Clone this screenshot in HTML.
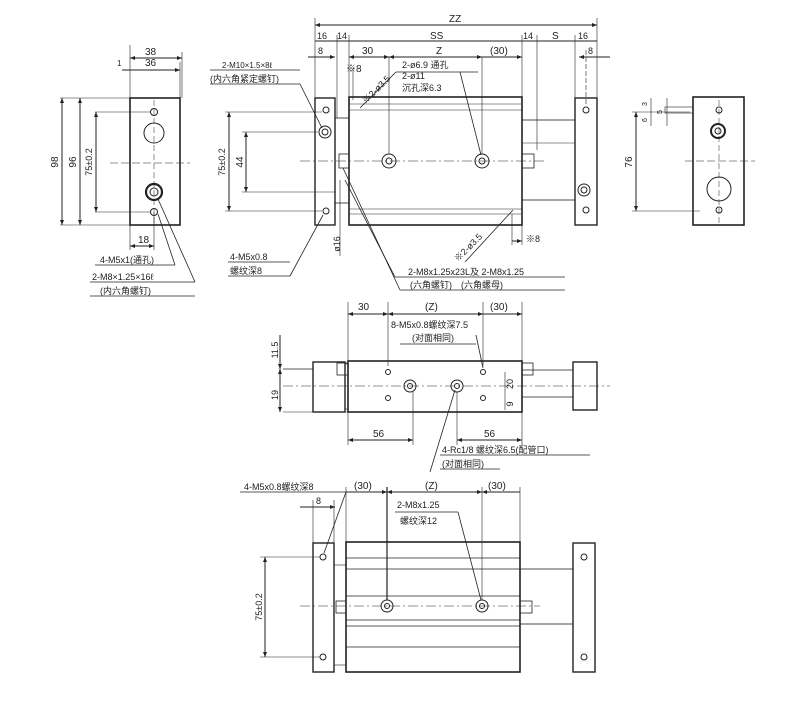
<!DOCTYPE html>
<html><head><meta charset="utf-8"><style>
html,body{margin:0;padding:0;background:#fff;}
svg{display:block;}
text{font-family:"Liberation Sans","Noto Sans CJK SC",sans-serif;fill:#222;}
</style></head><body>
<svg width="800" height="727" viewBox="0 0 800 727" xmlns="http://www.w3.org/2000/svg">
<defs>
<marker id="a" viewBox="0 0 10 10" refX="10" refY="5" markerWidth="6" markerHeight="5" orient="auto-start-reverse"><path d="M0,1 L10,5 L0,9z" fill="#222"/></marker>
</defs>
<g stroke="#222" fill="none" stroke-width="1">

<!-- ===== LEFT END VIEW ===== -->
<rect x="130" y="98" width="50" height="127" stroke-width="1.6"/>
<line x1="130" y1="45" x2="130" y2="98" stroke-width="0.6"/>
<line x1="182" y1="52" x2="182" y2="98" stroke-width="0.6"/>
<line x1="180" y1="62" x2="180" y2="98" stroke-width="0.6"/>
<line x1="130" y1="58" x2="182" y2="58" marker-start="url(#a)" marker-end="url(#a)"/>
<line x1="122" y1="70" x2="180" y2="70" marker-end="url(#a)"/>
<line x1="60" y1="98" x2="130" y2="98" stroke-width="0.6"/>
<line x1="60" y1="225" x2="130" y2="225" stroke-width="0.6"/>
<line x1="62" y1="98" x2="62" y2="225" marker-start="url(#a)" marker-end="url(#a)"/>
<line x1="80" y1="98" x2="80" y2="225" marker-start="url(#a)" marker-end="url(#a)"/>
<line x1="95" y1="112" x2="150" y2="112" stroke-width="0.6"/>
<line x1="95" y1="212" x2="150" y2="212" stroke-width="0.6"/>
<line x1="96" y1="112" x2="96" y2="212" marker-start="url(#a)" marker-end="url(#a)"/>
<circle cx="154" cy="112" r="3.5"/>
<circle cx="154" cy="133" r="10"/>
<circle cx="154" cy="192" r="8" stroke-width="2.2"/>
<circle cx="154" cy="192" r="4"/>
<circle cx="154" cy="212" r="3.5"/>
<line x1="154" y1="100" x2="154" y2="224" stroke-dasharray="6,3" stroke-width="0.5"/>
<line x1="110" y1="163" x2="190" y2="163" stroke-dasharray="8,3" stroke-width="0.5"/>
<line x1="130" y1="225" x2="130" y2="250" stroke-width="0.6"/>
<line x1="154" y1="212" x2="154" y2="250" stroke-width="0.6"/>
<line x1="130" y1="246" x2="154" y2="246" marker-start="url(#a)" marker-end="url(#a)"/>
<line x1="95" y1="265" x2="175" y2="265" stroke-width="0.8"/>
<line x1="175" y1="265" x2="158" y2="214" stroke-width="0.8"/>
<line x1="90" y1="282" x2="195" y2="282" stroke-width="0.8"/>
<line x1="195" y1="282" x2="158" y2="199" stroke-width="0.8"/>
<line x1="90" y1="296" x2="195" y2="296" stroke-width="0.8"/>

<!-- ===== TOP MAIN VIEW ===== -->
<rect x="315" y="98" width="20" height="127" stroke-width="1.4"/>
<rect x="335" y="118" width="14" height="85" stroke-width="0.8"/>
<rect x="349" y="97" width="173" height="128" stroke-width="1.6"/>
<line x1="349" y1="104" x2="522" y2="104" stroke-width="0.6"/>
<line x1="349" y1="110" x2="522" y2="110" stroke-width="0.6"/>
<line x1="349" y1="209" x2="522" y2="209" stroke-width="0.6"/>
<line x1="349" y1="214" x2="522" y2="214" stroke-width="0.6"/>
<rect x="522" y="120" width="53" height="80" stroke-width="0.8"/>
<line x1="522" y1="143" x2="575" y2="143" stroke-width="0.6"/>
<rect x="575" y="98" width="22" height="127" stroke-width="1.4"/>
<rect x="339" y="154" width="10" height="14" stroke-width="0.8"/>
<rect x="522" y="154" width="12" height="14" stroke-width="0.8"/>
<line x1="300" y1="161" x2="545" y2="161" stroke-dasharray="10,3,2,3" stroke-width="0.5"/>
<circle cx="389" cy="161" r="7"/><circle cx="389" cy="161" r="3"/>
<circle cx="482" cy="161" r="7"/><circle cx="482" cy="161" r="3"/>
<circle cx="326" cy="110" r="3"/>
<circle cx="325" cy="132" r="6"/><circle cx="325" cy="132" r="3"/>
<circle cx="326" cy="211" r="3"/>
<circle cx="586" cy="110" r="3"/>
<circle cx="584" cy="190" r="6"/><circle cx="584" cy="190" r="3"/>
<circle cx="586" cy="210" r="3"/>
<!-- 75 / 44 dims -->
<line x1="225" y1="112" x2="322" y2="112" stroke-width="0.6"/>
<line x1="225" y1="211" x2="322" y2="211" stroke-width="0.6"/>
<line x1="229" y1="112" x2="229" y2="211" marker-start="url(#a)" marker-end="url(#a)"/>
<line x1="242" y1="132" x2="318" y2="132" stroke-width="0.6"/>
<line x1="242" y1="192" x2="335" y2="192" stroke-width="0.6"/>
<line x1="246" y1="132" x2="246" y2="192" marker-start="url(#a)" marker-end="url(#a)"/>
<!-- dims top -->
<line x1="315" y1="18" x2="315" y2="98" stroke-width="0.6"/>
<line x1="597" y1="18" x2="597" y2="98" stroke-width="0.6"/>
<line x1="315" y1="25" x2="597" y2="25" marker-start="url(#a)" marker-end="url(#a)"/>
<line x1="315" y1="41" x2="597" y2="41"/>
<line x1="349" y1="35" x2="349" y2="97" stroke-width="0.6"/>
<line x1="522" y1="35" x2="522" y2="97" stroke-width="0.6"/>
<line x1="337" y1="35" x2="337" y2="118" stroke-width="0.6"/>
<line x1="537" y1="35" x2="537" y2="150" stroke-width="0.6"/>
<line x1="575" y1="35" x2="575" y2="98" stroke-width="0.6"/>
<line x1="308" y1="57" x2="335" y2="57" marker-end="url(#a)"/>
<line x1="349" y1="57" x2="389" y2="57" marker-start="url(#a)" marker-end="url(#a)"/>
<line x1="389" y1="57" x2="482" y2="57" marker-start="url(#a)" marker-end="url(#a)"/>
<line x1="482" y1="57" x2="522" y2="57" marker-end="url(#a)"/>
<line x1="579" y1="57" x2="610" y2="57" marker-start="url(#a)"/>
<line x1="389" y1="57" x2="389" y2="154" stroke-width="0.6"/>
<line x1="482" y1="57" x2="482" y2="154" stroke-width="0.6"/>
<line x1="586" y1="50" x2="586" y2="105" stroke-width="0.6" stroke-dasharray="5,2"/>
<line x1="353" y1="68" x2="353" y2="100" stroke-width="0.6"/>
<line x1="360" y1="108" x2="396" y2="72" stroke-width="0.8"/>
<line x1="396" y1="72" x2="478" y2="72" stroke-width="0.8"/>
<line x1="460" y1="72" x2="481" y2="155" stroke-width="0.8"/>
<line x1="210" y1="70" x2="300" y2="70" stroke-width="0.8"/>
<line x1="300" y1="84" x2="322" y2="128" stroke-width="0.8"/>
<line x1="210" y1="84" x2="300" y2="84" stroke-width="0.8"/>
<line x1="228" y1="262" x2="290" y2="262" stroke-width="0.8"/>
<line x1="228" y1="276" x2="290" y2="276" stroke-width="0.8"/>
<line x1="290" y1="276" x2="323" y2="215" stroke-width="0.8"/>
<line x1="340" y1="180" x2="340" y2="256" stroke-width="0.6"/>
<line x1="343" y1="168" x2="400" y2="290" stroke-width="0.8"/>
<line x1="345" y1="180" x2="395" y2="277" stroke-width="0.8"/>
<line x1="395" y1="277" x2="565" y2="277" stroke-width="0.8"/>
<line x1="400" y1="290" x2="565" y2="290" stroke-width="0.8"/>
<line x1="465" y1="262" x2="513" y2="210" stroke-width="0.8"/>
<line x1="512" y1="214" x2="512" y2="245" stroke-width="0.6"/>
<line x1="522" y1="225" x2="522" y2="245" stroke-width="0.6"/>
<line x1="512" y1="241" x2="522" y2="241" marker-end="url(#a)"/>

<!-- ===== RIGHT END VIEW ===== -->
<rect x="693" y="97" width="51" height="128" stroke-width="1.6"/>
<rect x="665" y="107" width="28" height="6" stroke-width="0.6"/>
<circle cx="719" cy="110" r="3"/>
<circle cx="718" cy="131" r="7" stroke-width="2"/><circle cx="718" cy="131" r="3"/>
<circle cx="719" cy="189" r="12"/>
<circle cx="719" cy="210" r="3"/>
<line x1="719" y1="100" x2="719" y2="224" stroke-dasharray="6,3" stroke-width="0.5"/>
<line x1="685" y1="161" x2="755" y2="161" stroke-dasharray="8,3" stroke-width="0.5"/>
<line x1="632" y1="112" x2="690" y2="112" stroke-width="0.6"/>
<line x1="632" y1="211" x2="700" y2="211" stroke-width="0.6"/>
<line x1="636" y1="112" x2="636" y2="211" marker-start="url(#a)" marker-end="url(#a)"/>
<line x1="651" y1="98" x2="651" y2="126" stroke-width="0.6"/>
<line x1="667" y1="98" x2="667" y2="126" stroke-width="0.6"/>

<!-- ===== MIDDLE SIDE VIEW ===== -->
<rect x="348" y="361" width="174" height="51" stroke-width="1.6"/>
<rect x="313" y="362" width="32" height="50" stroke-width="1.4"/>
<rect x="345" y="364" width="3" height="45" stroke-width="0.6"/>
<rect x="337" y="363" width="11" height="12" stroke-width="0.8"/>
<rect x="522" y="363" width="11" height="12" stroke-width="0.8"/>
<rect x="573" y="362" width="24" height="48" stroke-width="1.4"/>
<line x1="522" y1="370" x2="573" y2="370" stroke-width="0.8"/>
<line x1="522" y1="397" x2="573" y2="397" stroke-width="0.8"/>
<line x1="283" y1="369" x2="313" y2="369" stroke-width="0.8"/>
<line x1="283" y1="386" x2="610" y2="386" stroke-dasharray="10,3,2,3" stroke-width="0.5"/>
<line x1="283" y1="412" x2="348" y2="412" stroke-width="0.6"/>
<line x1="280" y1="335" x2="280" y2="369" marker-end="url(#a)"/>
<line x1="280" y1="369" x2="280" y2="412" marker-start="url(#a)" marker-end="url(#a)"/>
<circle cx="388" cy="372" r="2.5"/><circle cx="388" cy="398" r="2.5"/>
<circle cx="483" cy="372" r="2.5"/><circle cx="483" cy="398" r="2.5"/>
<circle cx="410" cy="386" r="6"/><circle cx="410" cy="386" r="2.5"/>
<circle cx="457" cy="386" r="6"/><circle cx="457" cy="386" r="2.5"/>
<line x1="348" y1="302" x2="348" y2="361" stroke-width="0.6"/>
<line x1="522" y1="302" x2="522" y2="361" stroke-width="0.6"/>
<line x1="388" y1="302" x2="388" y2="366" stroke-width="0.6"/>
<line x1="483" y1="302" x2="483" y2="366" stroke-width="0.6"/>
<line x1="348" y1="314" x2="388" y2="314" marker-start="url(#a)" marker-end="url(#a)"/>
<line x1="388" y1="314" x2="483" y2="314" marker-start="url(#a)" marker-end="url(#a)"/>
<line x1="483" y1="314" x2="522" y2="314" marker-end="url(#a)"/>
<line x1="348" y1="412" x2="348" y2="445" stroke-width="0.6"/>
<line x1="413" y1="392" x2="413" y2="445" stroke-width="0.6"/>
<line x1="457" y1="392" x2="457" y2="445" stroke-width="0.6"/>
<line x1="522" y1="412" x2="522" y2="445" stroke-width="0.6"/>
<line x1="348" y1="440" x2="413" y2="440" marker-start="url(#a)" marker-end="url(#a)"/>
<line x1="457" y1="440" x2="522" y2="440" marker-start="url(#a)" marker-end="url(#a)"/>
<line x1="505" y1="372" x2="505" y2="410" stroke-width="0.6"/>
<line x1="400" y1="344" x2="476" y2="344" stroke-width="0.8"/>
<line x1="476" y1="335" x2="483" y2="368" stroke-width="0.8"/>
<line x1="440" y1="455" x2="590" y2="455" stroke-width="0.8"/>
<line x1="440" y1="469" x2="500" y2="469" stroke-width="0.8"/>
<line x1="430" y1="472" x2="455" y2="390" stroke-width="0.8"/>

<!-- ===== BOTTOM VIEW ===== -->
<rect x="313" y="543" width="21" height="129" stroke-width="1.4"/>
<rect x="334" y="565" width="12" height="100" stroke-width="0.6"/>
<rect x="346" y="542" width="174" height="130" stroke-width="1.6"/>
<line x1="346" y1="558" x2="520" y2="558" stroke-width="0.7"/>
<line x1="346" y1="569" x2="520" y2="569" stroke-width="0.7"/>
<line x1="346" y1="596" x2="520" y2="596" stroke-width="0.7"/>
<line x1="346" y1="620" x2="520" y2="620" stroke-width="0.7"/>
<line x1="346" y1="626" x2="520" y2="626" stroke-width="0.7"/>
<line x1="346" y1="647" x2="520" y2="647" stroke-width="0.7"/>
<rect x="520" y="569" width="53" height="55" stroke-width="0.8"/>
<rect x="573" y="543" width="22" height="129" stroke-width="1.4"/>
<rect x="336" y="601" width="10" height="12" stroke-width="0.8"/>
<rect x="520" y="601" width="12" height="12" stroke-width="0.8"/>
<line x1="300" y1="606" x2="540" y2="606" stroke-dasharray="10,3,2,3" stroke-width="0.5"/>
<circle cx="323" cy="557" r="3"/><circle cx="323" cy="657" r="3"/>
<circle cx="584" cy="557" r="3"/><circle cx="584" cy="657" r="3"/>
<circle cx="387" cy="606" r="6"/><circle cx="387" cy="606" r="2.5"/>
<circle cx="482" cy="606" r="6"/><circle cx="482" cy="606" r="2.5"/>
<line x1="387" y1="487" x2="387" y2="600" stroke-width="1.2"/>
<line x1="482" y1="487" x2="482" y2="600" stroke-width="0.6"/>
<line x1="346" y1="487" x2="346" y2="542" stroke-width="0.6"/>
<line x1="520" y1="487" x2="520" y2="542" stroke-width="0.6"/>
<line x1="346" y1="492" x2="387" y2="492" marker-end="url(#a)"/>
<line x1="387" y1="492" x2="482" y2="492" marker-start="url(#a)" marker-end="url(#a)"/>
<line x1="482" y1="492" x2="520" y2="492" marker-start="url(#a)"/>
<line x1="300" y1="507" x2="335" y2="507" marker-end="url(#a)"/>
<line x1="313" y1="500" x2="313" y2="543" stroke-width="0.6"/>
<line x1="334" y1="500" x2="334" y2="543" stroke-width="0.6"/>
<line x1="240" y1="492" x2="346" y2="492" stroke-width="0.8"/>
<line x1="346" y1="492" x2="324" y2="553" stroke-width="0.8"/>
<line x1="395" y1="512" x2="458" y2="512" stroke-width="0.8"/>
<line x1="458" y1="512" x2="481" y2="600" stroke-width="0.8"/>
<line x1="260" y1="557" x2="320" y2="557" stroke-width="0.6"/>
<line x1="260" y1="657" x2="320" y2="657" stroke-width="0.6"/>
<line x1="265" y1="557" x2="265" y2="657" marker-start="url(#a)" marker-end="url(#a)"/>
</g>

<g font-size="10">
<!-- left view -->
<text x="145" y="55">38</text>
<text x="145" y="66">36</text>
<text x="117" y="66" font-size="8">1</text>
<text x="138" y="243">18</text>
<text transform="translate(58,162) rotate(-90)" text-anchor="middle">98</text>
<text transform="translate(76,162) rotate(-90)" text-anchor="middle">96</text>
<text transform="translate(92,162) rotate(-90)" text-anchor="middle" font-size="9">75±0.2</text>
<text x="100" y="263" font-size="9">4-M5x1(通孔)</text>
<text x="92" y="280" font-size="9">2-M8×1.25×16ℓ</text>
<text x="100" y="294" font-size="9">(内六角螺钉)</text>
<!-- top main -->
<text x="449" y="22">ZZ</text>
<text x="317" y="39" font-size="9">16</text>
<text x="337" y="39" font-size="9">14</text>
<text x="430" y="39">SS</text>
<text x="523" y="39" font-size="9">14</text>
<text x="552" y="39">S</text>
<text x="578" y="39" font-size="9">16</text>
<text x="318" y="54" font-size="9">8</text>
<text x="362" y="54">30</text>
<text x="436" y="54">Z</text>
<text x="490" y="54">(30)</text>
<text x="588" y="54" font-size="9">8</text>
<text x="346" y="72" font-size="10">※8</text>
<text x="402" y="68" font-size="9">2-ø6.9 通孔</text>
<text x="402" y="79" font-size="9">2-ø11</text>
<text x="402" y="91" font-size="9">沉孔深6.3</text>
<text transform="translate(366,104) rotate(-45)" font-size="9">※2-ø3.5</text>
<text x="222" y="68" font-size="8">2-M10×1.5×8ℓ</text>
<text x="210" y="82" font-size="9">(内六角紧定螺钉)</text>
<text transform="translate(225,162) rotate(-90)" text-anchor="middle" font-size="9">75±0.2</text>
<text transform="translate(243,162) rotate(-90)" text-anchor="middle">44</text>
<text transform="translate(340,244) rotate(-90)" text-anchor="middle" font-size="9">ø16</text>
<text x="230" y="260" font-size="9">4-M5x0.8</text>
<text x="230" y="274" font-size="9">螺纹深8</text>
<text x="408" y="275" font-size="9">2-M8x1.25x23L及 2-M8x1.25</text>
<text x="410" y="288" font-size="9">(六角螺钉)　(六角螺母)</text>
<text transform="translate(458,262) rotate(-45)" font-size="9">※2-ø3.5</text>
<text x="526" y="242" font-size="9">※8</text>
<!-- right view -->
<text transform="translate(632,162) rotate(-90)" text-anchor="middle">76</text>
<text transform="translate(647,104) rotate(-90)" text-anchor="middle" font-size="7">3</text>
<text transform="translate(647,120) rotate(-90)" text-anchor="middle" font-size="7">6</text>
<text transform="translate(662,112) rotate(-90)" text-anchor="middle" font-size="7">5</text>
<!-- middle view -->
<text x="358" y="310">30</text>
<text x="425" y="310">(Z)</text>
<text x="490" y="310">(30)</text>
<text x="391" y="328" font-size="9">8-M5x0.8螺纹深7.5</text>
<text x="412" y="341" font-size="9">(对面相同)</text>
<text transform="translate(278,350) rotate(-90)" text-anchor="middle" font-size="9">11.5</text>
<text transform="translate(278,395) rotate(-90)" text-anchor="middle" font-size="9">19</text>
<text transform="translate(513,384) rotate(-90)" text-anchor="middle" font-size="9">20</text>
<text transform="translate(513,404) rotate(-90)" text-anchor="middle" font-size="9">9</text>
<text x="373" y="437">56</text>
<text x="484" y="437">56</text>
<text x="442" y="453" font-size="9">4-Rc1/8 螺纹深6.5(配管口)</text>
<text x="442" y="467" font-size="9">(对面相同)</text>
<!-- bottom view -->
<text x="244" y="490" font-size="9">4-M5x0.8螺纹深8</text>
<text x="354" y="489">(30)</text>
<text x="425" y="489">(Z)</text>
<text x="488" y="489">(30)</text>
<text x="316" y="504" font-size="9">8</text>
<text x="397" y="508" font-size="9">2-M8x1.25</text>
<text x="400" y="524" font-size="9">螺纹深12</text>
<text transform="translate(262,607) rotate(-90)" text-anchor="middle" font-size="9">75±0.2</text>
</g>
</svg>
</body></html>
